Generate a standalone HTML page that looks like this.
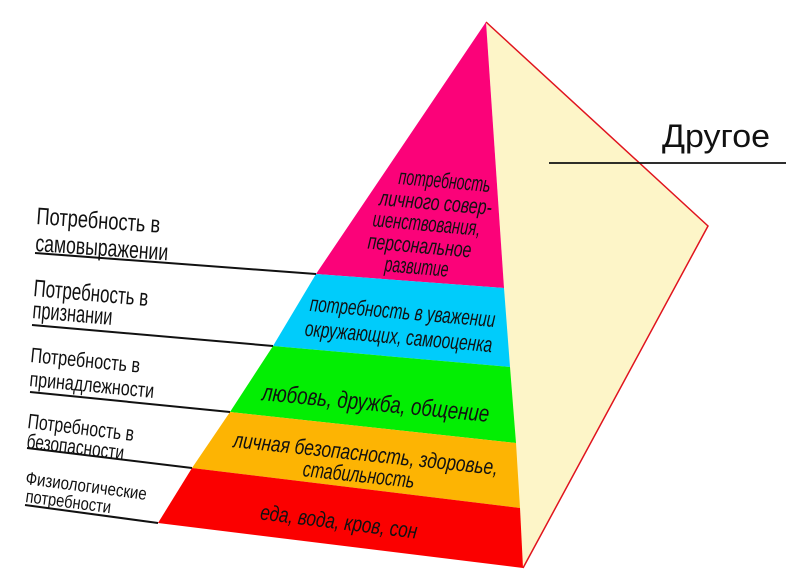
<!DOCTYPE html>
<html><head><meta charset="utf-8"><style>
html,body{margin:0;padding:0;background:#fff;}
svg{display:block;}
text{font-family:"Liberation Sans",sans-serif;fill:#111;}
</style></head><body>
<svg width="800" height="569" viewBox="0 0 800 569" xmlns="http://www.w3.org/2000/svg">
<polygon points="486,22 708,226 523,568" fill="#fdf5c8"/>
<polyline points="486,22 708,226 523,568" fill="none" stroke="#e0141e" stroke-width="1.5"/>
<polygon points="486,22 504,288 316,274" fill="#fb0279"/>
<polygon points="316,274 504,288 510,367 273,346" fill="#00ccfb"/>
<polygon points="273,346 510,367 516,443 230,412" fill="#03ee03"/>
<polygon points="230,412 516,443 520,508 192,468" fill="#fdb403"/>
<polygon points="192,468 520,508 523,568 158,523" fill="#fb0000"/>
<g stroke="#111" stroke-width="2">
<line x1="35" y1="253" x2="316" y2="274"/>
<line x1="32" y1="325" x2="273" y2="346"/>
<line x1="30" y1="392" x2="230" y2="412"/>
<line x1="27" y1="448" x2="192" y2="468"/>
<line x1="25" y1="505" x2="158" y2="523"/>
<line x1="549" y1="163" x2="786" y2="163" stroke-width="1.8"/>
</g>
<text x="662" y="147" font-size="32" textLength="108" lengthAdjust="spacingAndGlyphs">Другое</text>
<g font-size="24">
<text x="36" y="224" transform="rotate(4 36 224)" textLength="124" lengthAdjust="spacingAndGlyphs">Потребность в</text>
<text x="35" y="251" transform="rotate(4 35 251)" textLength="133" lengthAdjust="spacingAndGlyphs">самовыражении</text>
<text x="33" y="296" transform="rotate(5 33 296)" textLength="115" lengthAdjust="spacingAndGlyphs">Потребность в</text>
<text x="32" y="318" transform="rotate(5 32 318)" textLength="80" lengthAdjust="spacingAndGlyphs">признании</text>
</g>
<g font-size="21">
<text x="30" y="362" transform="rotate(5.5 30 362)" textLength="110" lengthAdjust="spacingAndGlyphs">Потребность в</text>
<text x="29" y="386" transform="rotate(5.5 29 386)" textLength="125" lengthAdjust="spacingAndGlyphs">принадлежности</text>
<text x="27" y="428" transform="rotate(7 27 428)" textLength="107" lengthAdjust="spacingAndGlyphs">Потребность в</text>
<text x="26" y="448" transform="rotate(7 26 448)" textLength="98" lengthAdjust="spacingAndGlyphs">безопасности</text>
</g>
<g font-size="18">
<text x="25" y="484" transform="rotate(7.5 25 484)" textLength="122" lengthAdjust="spacingAndGlyphs">Физиологические</text>
<text x="25" y="502" transform="rotate(7.5 25 502)" textLength="86" lengthAdjust="spacingAndGlyphs">потребности</text>
</g>
<g font-size="22" text-anchor="middle" font-style="italic">
<text x="444" y="188" transform="rotate(5 444 188)" textLength="92" lengthAdjust="spacingAndGlyphs">потребность</text>
<text x="435" y="210" transform="rotate(5 435 210)" textLength="113" lengthAdjust="spacingAndGlyphs">личного совер-</text>
<text x="426" y="231" transform="rotate(5 426 231)" textLength="108" lengthAdjust="spacingAndGlyphs">шенствования,</text>
<text x="419" y="253" transform="rotate(5 419 253)" textLength="104" lengthAdjust="spacingAndGlyphs">персональное</text>
<text x="416" y="274" transform="rotate(5 416 274)" textLength="64" lengthAdjust="spacingAndGlyphs">развитие</text>
<text x="402" y="319" transform="rotate(5 402 319)" textLength="186" lengthAdjust="spacingAndGlyphs">потребность в уважении</text>
<text x="398" y="344" transform="rotate(5 398 344)" textLength="188" lengthAdjust="spacingAndGlyphs">окружающих, самооценка</text>
<text x="375" y="411" transform="rotate(5.5 375 411)" font-size="24" textLength="228" lengthAdjust="spacingAndGlyphs">любовь, дружба, общение</text>
<text x="365" y="461" transform="rotate(6 365 461)" textLength="266" lengthAdjust="spacingAndGlyphs">личная безопасность, здоровье,</text>
<text x="358" y="482" transform="rotate(6 358 482)" textLength="112" lengthAdjust="spacingAndGlyphs">стабильность</text>
<text x="338" y="529" transform="rotate(7 338 529)" textLength="158" lengthAdjust="spacingAndGlyphs">еда, вода, кров, сон</text>
</g>
</svg>
</body></html>
